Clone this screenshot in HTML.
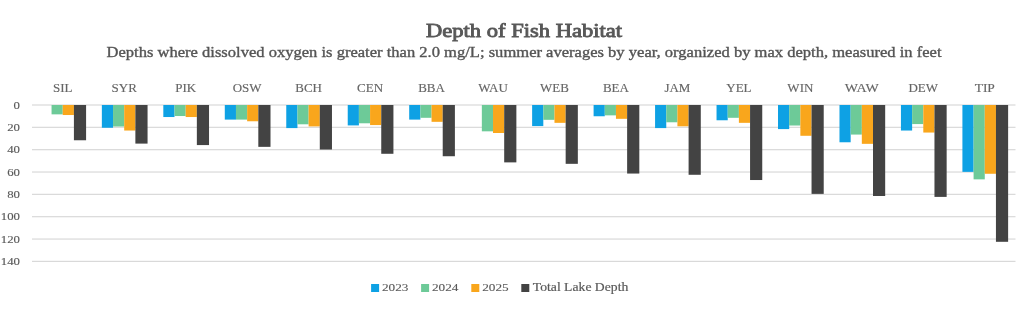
<!DOCTYPE html>
<html><head><meta charset="utf-8"><style>
html,body{margin:0;padding:0;background:#fff;width:1024px;height:320px;overflow:hidden}
svg{display:block;will-change:transform}
text{font-family:"Liberation Serif",serif;fill:#595959}
.t{font-weight:normal;font-size:19px;fill:#585858;stroke:#585858;stroke-width:0.85px}
.st{font-size:14.5px;fill:#555;stroke:#555;stroke-width:0.35px}
.cl{font-size:13.5px;fill:#666;stroke:#666;stroke-width:0.15px}
.yl{font-size:10.5px;stroke:#595959;stroke-width:0.12px}
.lg{font-size:13.5px;stroke:#595959;stroke-width:0.2px}
.lgd{font-size:10.8px;stroke:#595959;stroke-width:0.1px}
</style></head><body>
<svg width="1024" height="320" viewBox="0 0 1024 320">
<rect width="1024" height="320" fill="#fff"/>
<text x="524" y="37.4" text-anchor="middle" class="t" textLength="196" lengthAdjust="spacingAndGlyphs">Depth of Fish Habitat</text>
<text x="524" y="56.8" text-anchor="middle" class="st" textLength="835" lengthAdjust="spacingAndGlyphs">Depths where dissolved oxygen is greater than 2.0 mg/L; summer averages by year, organized by max depth, measured in feet</text>
<rect x="32.0" y="104.40" width="983.50" height="1.2" fill="#d9d9d9"/>
<text x="13.60" y="108.60" class="yl" textLength="6.40" lengthAdjust="spacingAndGlyphs">0</text>
<rect x="32.0" y="126.74" width="983.50" height="1.2" fill="#d9d9d9"/>
<text x="7.20" y="130.94" class="yl" textLength="12.80" lengthAdjust="spacingAndGlyphs">20</text>
<rect x="32.0" y="149.08" width="983.50" height="1.2" fill="#d9d9d9"/>
<text x="7.20" y="153.28" class="yl" textLength="12.80" lengthAdjust="spacingAndGlyphs">40</text>
<rect x="32.0" y="171.42" width="983.50" height="1.2" fill="#d9d9d9"/>
<text x="7.20" y="175.62" class="yl" textLength="12.80" lengthAdjust="spacingAndGlyphs">60</text>
<rect x="32.0" y="193.76" width="983.50" height="1.2" fill="#d9d9d9"/>
<text x="7.20" y="197.96" class="yl" textLength="12.80" lengthAdjust="spacingAndGlyphs">80</text>
<rect x="32.0" y="216.10" width="983.50" height="1.2" fill="#d9d9d9"/>
<text x="0.80" y="220.30" class="yl" textLength="19.20" lengthAdjust="spacingAndGlyphs">100</text>
<rect x="32.0" y="238.44" width="983.50" height="1.2" fill="#d9d9d9"/>
<text x="0.80" y="242.64" class="yl" textLength="19.20" lengthAdjust="spacingAndGlyphs">120</text>
<rect x="32.0" y="260.78" width="983.50" height="1.2" fill="#d9d9d9"/>
<text x="0.80" y="264.98" class="yl" textLength="19.20" lengthAdjust="spacingAndGlyphs">140</text>
<rect x="51.56" y="105.00" width="11.18" height="9.35" fill="#6dca98"/>
<rect x="62.73" y="105.00" width="11.18" height="10.02" fill="#f9a61c"/>
<rect x="73.91" y="105.00" width="12.18" height="35.26" fill="#434343"/>
<text x="62.73" y="92.4" text-anchor="middle" class="cl" textLength="19.50" lengthAdjust="spacingAndGlyphs">SIL</text>
<rect x="101.85" y="105.00" width="11.18" height="22.75" fill="#0ea1e4"/>
<rect x="113.03" y="105.00" width="11.18" height="21.52" fill="#6dca98"/>
<rect x="124.20" y="105.00" width="11.18" height="25.54" fill="#f9a61c"/>
<rect x="135.38" y="105.00" width="12.18" height="38.61" fill="#434343"/>
<text x="124.20" y="92.4" text-anchor="middle" class="cl" textLength="25.30" lengthAdjust="spacingAndGlyphs">SYR</text>
<rect x="163.32" y="105.00" width="11.18" height="12.03" fill="#0ea1e4"/>
<rect x="174.50" y="105.00" width="11.18" height="11.02" fill="#6dca98"/>
<rect x="185.67" y="105.00" width="11.18" height="12.03" fill="#f9a61c"/>
<rect x="196.85" y="105.00" width="12.18" height="40.07" fill="#434343"/>
<text x="185.67" y="92.4" text-anchor="middle" class="cl" textLength="20.95" lengthAdjust="spacingAndGlyphs">PIK</text>
<rect x="224.79" y="105.00" width="11.18" height="14.60" fill="#0ea1e4"/>
<rect x="235.96" y="105.00" width="11.18" height="14.60" fill="#6dca98"/>
<rect x="247.14" y="105.00" width="11.18" height="16.27" fill="#f9a61c"/>
<rect x="258.32" y="105.00" width="12.18" height="41.85" fill="#434343"/>
<text x="247.14" y="92.4" text-anchor="middle" class="cl" textLength="28.89" lengthAdjust="spacingAndGlyphs">OSW</text>
<rect x="286.26" y="105.00" width="11.18" height="23.09" fill="#0ea1e4"/>
<rect x="297.43" y="105.00" width="11.18" height="19.29" fill="#6dca98"/>
<rect x="308.61" y="105.00" width="11.18" height="21.41" fill="#f9a61c"/>
<rect x="319.79" y="105.00" width="12.18" height="44.53" fill="#434343"/>
<text x="308.61" y="92.4" text-anchor="middle" class="cl" textLength="26.73" lengthAdjust="spacingAndGlyphs">BCH</text>
<rect x="347.73" y="105.00" width="11.18" height="20.41" fill="#0ea1e4"/>
<rect x="358.90" y="105.00" width="11.18" height="18.28" fill="#6dca98"/>
<rect x="370.08" y="105.00" width="11.18" height="20.07" fill="#f9a61c"/>
<rect x="381.25" y="105.00" width="12.18" height="48.78" fill="#434343"/>
<text x="370.08" y="92.4" text-anchor="middle" class="cl" textLength="26.00" lengthAdjust="spacingAndGlyphs">CEN</text>
<rect x="409.19" y="105.00" width="11.18" height="14.60" fill="#0ea1e4"/>
<rect x="420.37" y="105.00" width="11.18" height="12.81" fill="#6dca98"/>
<rect x="431.55" y="105.00" width="11.18" height="16.83" fill="#f9a61c"/>
<rect x="442.72" y="105.00" width="12.18" height="51.24" fill="#434343"/>
<text x="431.55" y="92.4" text-anchor="middle" class="cl" textLength="26.73" lengthAdjust="spacingAndGlyphs">BBA</text>
<rect x="481.84" y="105.00" width="11.18" height="26.33" fill="#6dca98"/>
<rect x="493.02" y="105.00" width="11.18" height="28.00" fill="#f9a61c"/>
<rect x="504.19" y="105.00" width="12.18" height="57.38" fill="#434343"/>
<text x="493.02" y="92.4" text-anchor="middle" class="cl" textLength="29.61" lengthAdjust="spacingAndGlyphs">WAU</text>
<rect x="532.13" y="105.00" width="11.18" height="21.08" fill="#0ea1e4"/>
<rect x="543.31" y="105.00" width="11.18" height="14.82" fill="#6dca98"/>
<rect x="554.48" y="105.00" width="11.18" height="17.84" fill="#f9a61c"/>
<rect x="565.66" y="105.00" width="12.18" height="58.83" fill="#434343"/>
<text x="554.48" y="92.4" text-anchor="middle" class="cl" textLength="28.89" lengthAdjust="spacingAndGlyphs">WEB</text>
<rect x="593.60" y="105.00" width="11.18" height="11.25" fill="#0ea1e4"/>
<rect x="604.78" y="105.00" width="11.18" height="10.35" fill="#6dca98"/>
<rect x="615.95" y="105.00" width="11.18" height="13.82" fill="#f9a61c"/>
<rect x="627.13" y="105.00" width="12.18" height="68.55" fill="#434343"/>
<text x="615.95" y="92.4" text-anchor="middle" class="cl" textLength="26.00" lengthAdjust="spacingAndGlyphs">BEA</text>
<rect x="655.07" y="105.00" width="11.18" height="23.09" fill="#0ea1e4"/>
<rect x="666.25" y="105.00" width="11.18" height="17.28" fill="#6dca98"/>
<rect x="677.42" y="105.00" width="11.18" height="21.30" fill="#f9a61c"/>
<rect x="688.60" y="105.00" width="12.18" height="69.78" fill="#434343"/>
<text x="677.42" y="92.4" text-anchor="middle" class="cl" textLength="26.02" lengthAdjust="spacingAndGlyphs">JAM</text>
<rect x="716.54" y="105.00" width="11.18" height="15.27" fill="#0ea1e4"/>
<rect x="727.71" y="105.00" width="11.18" height="12.81" fill="#6dca98"/>
<rect x="738.89" y="105.00" width="11.18" height="17.84" fill="#f9a61c"/>
<rect x="750.07" y="105.00" width="12.18" height="75.03" fill="#434343"/>
<text x="738.89" y="92.4" text-anchor="middle" class="cl" textLength="25.28" lengthAdjust="spacingAndGlyphs">YEL</text>
<rect x="778.01" y="105.00" width="11.18" height="24.09" fill="#0ea1e4"/>
<rect x="789.18" y="105.00" width="11.18" height="20.52" fill="#6dca98"/>
<rect x="800.36" y="105.00" width="11.18" height="30.79" fill="#f9a61c"/>
<rect x="811.54" y="105.00" width="12.18" height="88.88" fill="#434343"/>
<text x="800.36" y="92.4" text-anchor="middle" class="cl" textLength="26.00" lengthAdjust="spacingAndGlyphs">WIN</text>
<rect x="839.48" y="105.00" width="11.18" height="37.27" fill="#0ea1e4"/>
<rect x="850.65" y="105.00" width="11.18" height="29.57" fill="#6dca98"/>
<rect x="861.83" y="105.00" width="11.18" height="38.84" fill="#f9a61c"/>
<rect x="873.00" y="105.00" width="12.18" height="91.00" fill="#434343"/>
<text x="861.83" y="92.4" text-anchor="middle" class="cl" textLength="34.00" lengthAdjust="spacingAndGlyphs">WAW</text>
<rect x="900.94" y="105.00" width="11.18" height="25.54" fill="#0ea1e4"/>
<rect x="912.12" y="105.00" width="11.18" height="19.07" fill="#6dca98"/>
<rect x="923.30" y="105.00" width="11.18" height="27.55" fill="#f9a61c"/>
<rect x="934.47" y="105.00" width="12.18" height="91.89" fill="#434343"/>
<text x="923.30" y="92.4" text-anchor="middle" class="cl" textLength="29.61" lengthAdjust="spacingAndGlyphs">DEW</text>
<rect x="962.41" y="105.00" width="11.18" height="66.87" fill="#0ea1e4"/>
<rect x="973.59" y="105.00" width="11.18" height="74.36" fill="#6dca98"/>
<rect x="984.77" y="105.00" width="11.18" height="68.77" fill="#f9a61c"/>
<rect x="995.94" y="105.00" width="12.18" height="136.80" fill="#434343"/>
<text x="984.77" y="92.4" text-anchor="middle" class="cl" textLength="20.20" lengthAdjust="spacingAndGlyphs">TIP</text>
<rect x="371.1" y="284" width="8" height="8" fill="#0ea1e4"/>
<text x="381.9" y="291.3" class="lgd" textLength="26.5" lengthAdjust="spacingAndGlyphs">2023</text>
<rect x="421.1" y="284" width="8" height="8" fill="#6dca98"/>
<text x="431.9" y="291.3" class="lgd" textLength="26.5" lengthAdjust="spacingAndGlyphs">2024</text>
<rect x="471.3" y="284" width="8" height="8" fill="#f9a61c"/>
<text x="482.2" y="291.3" class="lgd" textLength="26.5" lengthAdjust="spacingAndGlyphs">2025</text>
<rect x="521.3" y="284" width="8" height="8" fill="#434343"/>
<text x="532.8" y="291.3" class="lg" textLength="95.5" lengthAdjust="spacingAndGlyphs">Total Lake Depth</text>
</svg>
</body></html>
